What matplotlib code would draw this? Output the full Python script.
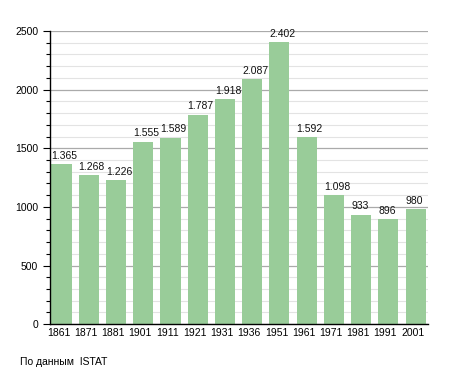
import matplotlib
matplotlib.use("Agg")
import matplotlib.pyplot as plt
import matplotlib.transforms as mtransforms
from matplotlib.ticker import MultipleLocator

years = ["1861", "1871", "1881", "1901", "1911", "1921", "1931", "1936", "1951", "1961", "1971", "1981", "1991", "2001"]
population = [1365, 1268, 1226, 1555, 1589, 1787, 1918, 2087, 2402, 1592, 1098, 933, 896, 980]
value_labels = ["1.365", "1.268", "1.226", "1.555", "1.589", "1.787", "1.918", "2.087", "2.402", "1.592", "1.098", "933", "896", "980"]
source = "По данным  ISTAT"

plt.rcParams['font.family'] = ['Liberation Sans', 'DejaVu Sans']
fig = plt.figure(figsize=(4.55, 3.73), dpi=100)
ax = fig.add_axes([0.110, 0.131, 0.831, 0.786])

bw = 0.74
x = list(range(len(years)))
ax.bar(x, population, width=bw, color="#99cc99", zorder=2)
for xi, v, lab in zip(x, population, value_labels):
    ax.text(xi - bw / 2, v + 30, lab, ha="left", va="bottom", fontsize=7.5, color="#111111", zorder=3)

ax.set_xlim(-0.42, 13.46)
ax.set_ylim(0, 2500)
ax.yaxis.set_major_locator(MultipleLocator(500))
ax.yaxis.set_minor_locator(MultipleLocator(100))
ax.grid(which="major", axis="y", color="#aaaaaa", linewidth=0.9, zorder=0)
ax.grid(which="minor", axis="y", color="#e3e3e3", linewidth=0.8, zorder=0)
ax.set_xticks(x)
ax.set_xticklabels(years)
ax.tick_params(axis="x", length=0, labelsize=7.5, pad=3)
offset = mtransforms.ScaledTranslation(-3 / 100, 0, fig.dpi_scale_trans)
for lbl in ax.get_xticklabels():
    lbl.set_transform(lbl.get_transform() + offset)
ax.tick_params(axis="y", which="major", length=5, width=0.8, labelsize=7.5, direction="out")
ax.tick_params(axis="y", which="minor", length=3, width=0.8, direction="out")
for s in ["top", "right"]:
    ax.spines[s].set_visible(False)
ax.spines["left"].set_linewidth(1.0)
ax.spines["bottom"].set_linewidth(1.0)

fig.text(20 / 455, 1 - 362 / 373, source, fontsize=7.5, ha="left", va="center")

fig.savefig("out.png", dpi=100)
